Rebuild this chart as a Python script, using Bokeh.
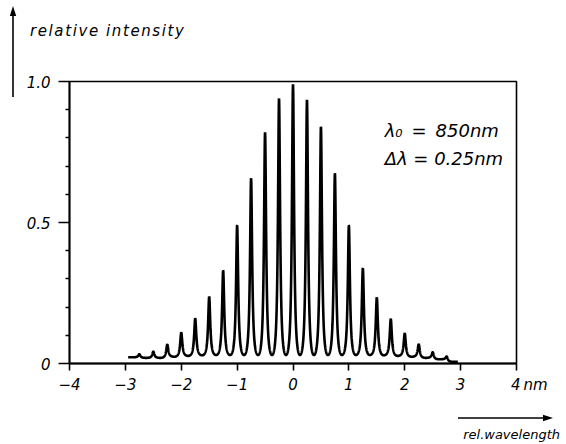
import numpy as np
from bokeh.plotting import figure
from bokeh.layouts import row, column
from bokeh.models import Range1d, FixedTicker, Div
from bokeh.core.properties import value
from bokeh.embed import file_html
from bokeh.resources import INLINE

# ---- data ----
mode_spacing_nm = 0.25
peak_positions = [-2.75, -2.5, -2.25, -2.0, -1.75, -1.5, -1.25, -1.0, -0.75, -0.5, -0.25, 0.0,
                  0.25, 0.5, 0.75, 1.0, 1.25, 1.5, 1.75, 2.0, 2.25, 2.5, 2.75]
peak_heights = [0.033, 0.042, 0.067, 0.11, 0.16, 0.237, 0.33, 0.49, 0.657, 0.82, 0.94, 0.99,
                0.935, 0.84, 0.675, 0.49, 0.338, 0.234, 0.158, 0.107, 0.068, 0.04, 0.025]
# trough level to the left of each peak, plus the level right of the last one
valley_levels = [0.022, 0.020, 0.020, 0.024, 0.027, 0.029, 0.030, 0.030, 0.030, 0.030, 0.030, 0.030,
                 0.030, 0.030, 0.030, 0.030, 0.030, 0.030, 0.029, 0.027, 0.024, 0.020, 0.015, 0.006]
curve_start, curve_end = -2.95, 2.95

x_ticks = [-4, -3, -2, -1, 0, 1, 2, 3, 4]
x_tick_labels = ["\u22124", "\u22123", "\u22122", "\u22121", "0", "1", "2", "3",
                 "\u2002\u2002\u2002\u20094\u2009nm"]
y_ticks = [0, 0.5, 1.0]
y_tick_labels = ["0", "0.5", "1.0"]
y_minor_ticks = [0.1, 0.2, 0.3, 0.4, 0.6, 0.7, 0.8, 0.9]

y_title = "relative intensity"
x_title = "rel.wavelength"
note_lines = ["\u03bb\u2080\u2002=\u2002850nm", "\u0394\u03bb = 0.25nm"]

# ---- build the mode spectrum line (Airy-like mode profile around each read peak) ----
finesse_F = 12.0
pos = np.array(peak_positions)
hts = np.array(peak_heights)
vals = np.array(valley_levels)
xs = np.linspace(curve_start, curve_end, 3001)
k = np.clip(np.round((xs - pos[0]) / mode_spacing_nm).astype(int), 0, len(pos) - 1)
d = xs - pos[k]
side = np.where(d < 0, k, k + 1)
vv = vals[side]
g_mid = 1.0 / (1.0 + finesse_F)
g = 1.0 / (1.0 + finesse_F * np.sin(np.pi * d / mode_spacing_nm) ** 2)
g = np.where(np.abs(d) <= mode_spacing_nm / 2, (g - g_mid) / (1 - g_mid), 0.0)
ys = vv + (hts[k] - vv) * g

FONT = "DejaVu Sans"
W, H = 566, 444
LW = 23          # left strip width (vertical arrow)
TH = 68          # top strip height
BH = 34          # bottom strip height
MH = H - TH - BH

# main plot
p = figure(width=W - LW, height=MH, x_range=Range1d(-4, 4), y_range=Range1d(0, 1.0),
           output_backend="svg", toolbar_location=None, margin=(0, 0, 0, 0),
           min_border_left=44, min_border_right=50, min_border_top=13, min_border_bottom=47)
p.grid.visible = False
p.outline_line_color = "black"
p.outline_line_width = 1.6
p.background_fill_color = "white"
p.border_fill_color = "white"

p.line(xs, ys, line_color="black", line_width=2.6)

for ax in (p.xaxis[0], p.yaxis[0]):
    ax.axis_line_width = 1.8
    ax.major_tick_line_width = 1.6
    ax.major_label_text_font = FONT
    ax.major_label_text_font_style = "italic"
    ax.major_label_text_font_size = "15px"
    ax.major_label_text_color = "black"
    ax.major_tick_in = 0

p.xaxis.ticker = FixedTicker(ticks=x_ticks, minor_ticks=[])
p.xaxis.major_label_overrides = {t: l for t, l in zip(x_ticks, x_tick_labels)}
p.xaxis.major_tick_out = 7
p.xaxis.major_label_standoff = 5

p.yaxis.ticker = FixedTicker(ticks=y_ticks, minor_ticks=y_minor_ticks)
p.yaxis.major_label_overrides = {t: l for t, l in zip(y_ticks, y_tick_labels)}
p.yaxis.major_tick_out = 11
p.yaxis.minor_tick_out = 4
p.yaxis.minor_tick_in = 0
p.yaxis.minor_tick_line_width = 1.4
p.yaxis.major_label_standoff = 8

p.text(x=[1.64, 1.64], y=[0.826, 0.728], text=note_lines, text_font=value(FONT),
       text_font_style="italic", text_font_size="18px", text_baseline="middle",
       text_align="left", text_color="black")

TXT = 'style="font-family:\'DejaVu Sans\';font-style:italic" fill="black"'

# left strip: vertical arrow pointing up
left = Div(width=LW, height=H, margin=(0, 0, 0, 0), text=(
    f'<svg width="{LW}" height="{H}" style="display:block">'
    '<line x1="13" y1="97" x2="13" y2="15" stroke="black" stroke-width="1.6"/>'
    '<polygon points="13,6 9.8,16 16.2,16" fill="black"/></svg>'))

# top strip: ordinate title (strip starts at x = LW)
top = Div(width=W - LW, height=TH, margin=(0, 0, 0, 0), text=(
    f'<svg width="{W - LW}" height="{TH}" style="display:block">'
    f'<text x="{30 - LW}" y="36" font-size="15" letter-spacing="1.6" {TXT}>{y_title}</text></svg>'))

# bottom strip: abscissa arrow and title
bx = -LW
bot = Div(width=W - LW, height=BH, margin=(0, 0, 0, 0), text=(
    f'<svg width="{W - LW}" height="{BH}" style="display:block">'
    f'<g transform="translate({bx},0)">'
    '<line x1="458" y1="8" x2="544" y2="8" stroke="black" stroke-width="1.6"/>'
    '<polygon points="553,8 543,4.8 543,11.2" fill="black"/>'
    f'<text x="560" y="29" font-size="13" text-anchor="end" {TXT}>{x_title}</text></g></svg>'))

layout = row(left, column(top, p, bot, spacing=0), spacing=0)
open("out.html", "w").write(file_html(layout, INLINE))
